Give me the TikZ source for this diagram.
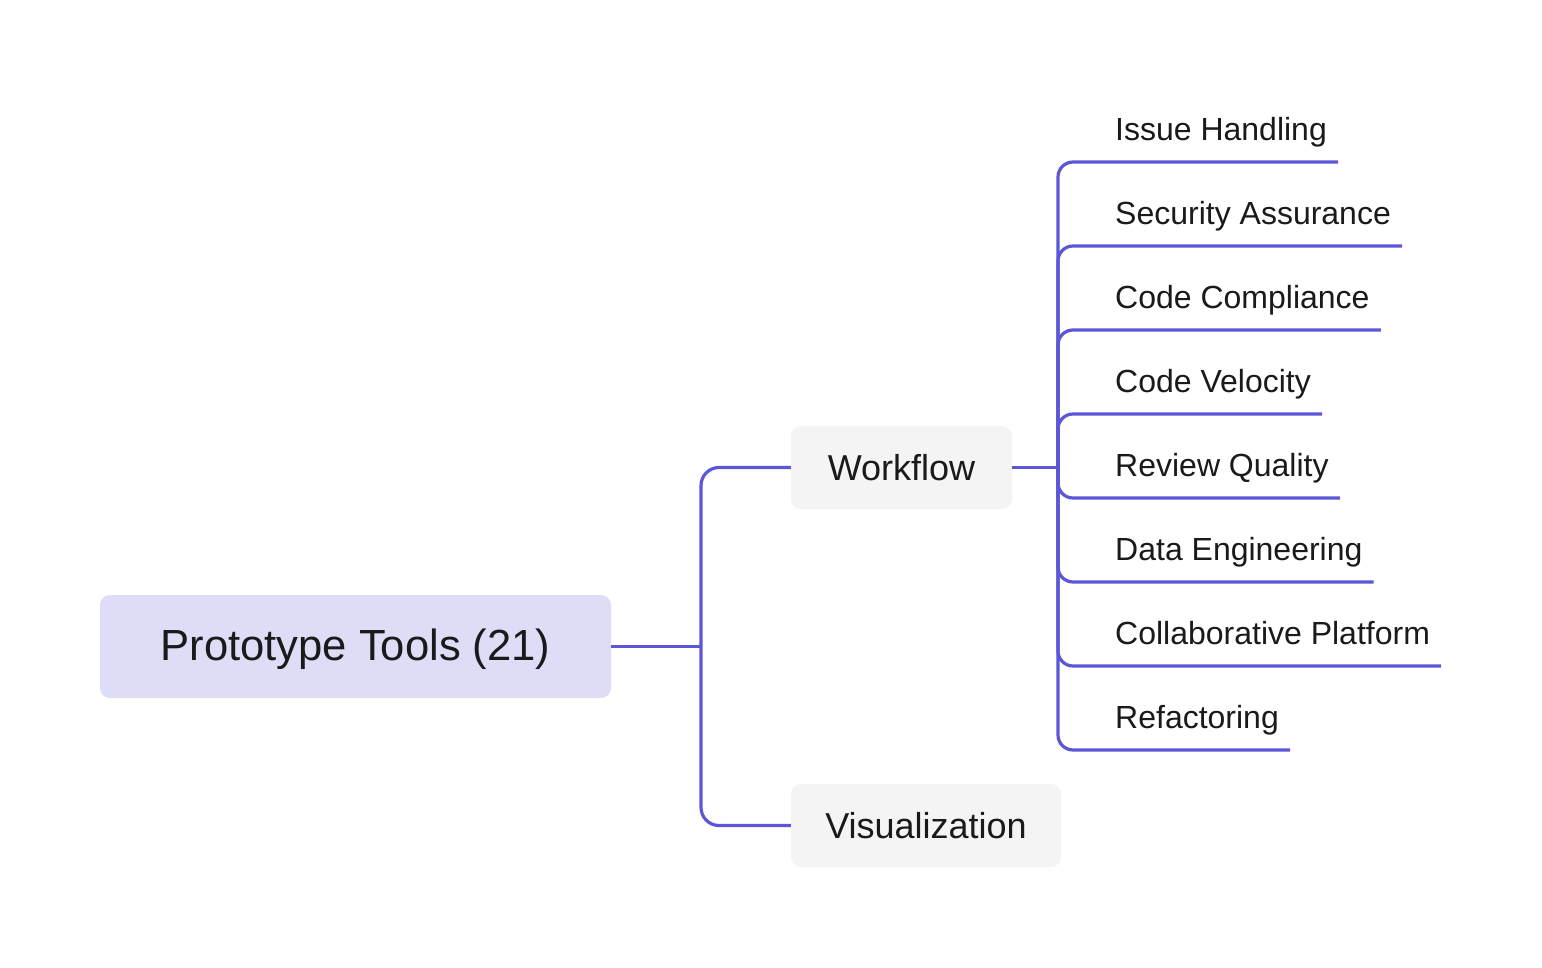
\documentclass[tikz,border=0pt]{standalone}
\usepackage{fontspec}
\setmainfont{Liberation Sans}
\definecolor{linec}{HTML}{5B57D6}
\definecolor{rootfill}{HTML}{DDDDF7}
\definecolor{boxfill}{HTML}{F4F4F4}
\definecolor{txt}{HTML}{1A1A1A}
\tikzset{
  conn/.style={draw=linec, line width=3.2pt, rounded corners=18pt},
  leafconn/.style={draw=linec, line width=3.2pt, rounded corners=15pt},
  rootbox/.style={rectangle, rounded corners=10pt, fill=rootfill, text=txt,
    minimum width=511pt, minimum height=103pt, text height=32pt, text depth=5pt,
    font=\fontsize{43.6}{50}\selectfont},
  midbox/.style={rectangle, rounded corners=10pt, fill=boxfill, text=txt,
    minimum height=83pt, font=\fontsize{36}{42}\selectfont},
  leaf/.style={anchor=south west, inner xsep=11pt, inner ysep=0pt, text=txt,
    text depth=21pt, text height=28pt, font=\fontsize{32}{38}\selectfont}
}
\begin{document}
\begin{tikzpicture}[x=1pt,y=-1pt]
\useasboundingbox (0,0) rectangle (1542,968);
\fill[white] (0,0) rectangle (1542,968);
% nodes
\node[rootbox] (root) at (355.5,646.5) {Prototype Tools (21)};
\node[midbox, minimum width=221pt] (wf) at (901.5,467.5) {Workflow};
\node[midbox, minimum width=270pt] (vis) at (926,825.5) {Visualization};
\node[leaf] (l1) at (1104,162) {Issue Handling};
\node[leaf] (l2) at (1104,246) {Security Assurance};
\node[leaf] (l3) at (1104,330) {Code Compliance};
\node[leaf] (l4) at (1104,414) {Code Velocity};
\node[leaf] (l5) at (1104,498) {Review Quality};
\node[leaf] (l6) at (1104,582) {Data Engineering};
\node[leaf] (l7) at (1104,666) {Collaborative Platform};
\node[leaf] (l8) at (1104,750) {Refactoring};
% junctions
\coordinate (j1) at (701,646.5);
\coordinate (j2) at (1058,467.5);
% connectors
\draw[conn] (root.east) -- (j1);
\draw[conn] (wf.west) -| (j1) |- (vis.west);
\draw[leafconn] (wf.east) -- (j2);
\foreach \l in {l1,l2,l3,l4,l5,l6,l7,l8}{
  \draw[leafconn] (j2) |- (\l.south east);
}
\end{tikzpicture}
\end{document}
